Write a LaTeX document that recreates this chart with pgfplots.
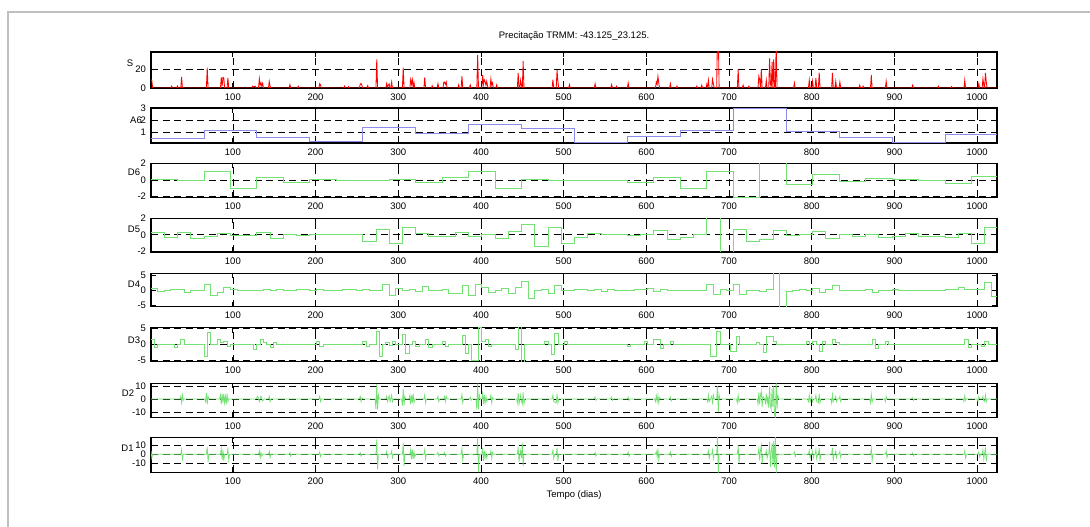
\documentclass[border=0pt]{standalone}
\usepackage{fontspec}
\setmainfont{Liberation Sans}
\usepackage{pgfplots}
\pgfplotsset{compat=1.18}
\definecolor{sred}{RGB}{255,0,0}
\definecolor{ablue}{RGB}{140,140,238}
\definecolor{dgreen}{RGB}{115,225,115}
\newcommand{\fs}{\fontsize{9.5}{11}\selectfont}
\pgfplotsset{
 sub/.style={
  scale only axis, width=846pt, anchor=south west,
  xmin=1, xmax=1024,
  xtick={100,200,300,400,500,600,700,800,900,1000},
  xticklabels={100,200,300,400,500,600,700,800,900,1000},
  tick align=inside, xtick pos=both, ytick pos=both,
  major tick length=5pt,
  xmajorgrids=true, ymajorgrids=true,
  major grid style={black, dash pattern=on 7pt off 4.5pt, line width=0.7pt},
  axis line style={black, line width=1.1pt},
  every tick/.style={black, line width=0.8pt},
  tick label style={font=\fs},
  xticklabel style={yshift=-2pt},
  yticklabel style={xshift=-1.5pt},
  every axis plot/.append style={no marks, line width=0.75pt},
 },
 lab/.style 2 args={extra description/.code={\node[font=\fs] at ([xshift=#1pt,yshift=#2pt]axis description cs:0,0.5) {\pgfkeysvalueof{/pgfplots/mylab}};}},
 mylab/.initial={},
}
\begin{document}
\begin{tikzpicture}[x=1pt,y=1pt]
\path[use as bounding box] (0,0) rectangle (1090,527);
\draw[black!25, line width=1.3pt] (8,0) -- (8,515) -- (1090,515);
\node[font=\fs, anchor=base] at (574,488) {Precitação TRMM: -43.125\_23.125.};
\node[font=\fs, anchor=base] at (574,29) {Tempo (dias)};

% S
\begin{axis}[sub, at={(151pt,439pt)}, height=36pt, ymin=0, ymax=39,
  ytick={0,20}, yticklabels={0,20}, mylab={S}, lab={-21}{6.5}]
\addplot[sred, line width=0.85pt] coordinates {(1,9)(2,8)(3,0)(25,0)(26,2)(27,0)(32,0)(33,2)(34,0)(37,0)(38,12)(39,0)(68,0)(69,22)(70,0)(85,0)(86,11.5)(87,2)(88,11.5)(89,11)(90,0)(93,0)(94,11)(95,0)(123,0)(124,2)(125,1)(127,2)(128,0)(131,0)(132,10)(133,3)(134,5.5)(135,2)(136,5)(137,0)(143,0)(144,7)(145,2)(146,0)(168,0)(169,3.6)(170,0)(178,0)(179,2)(180,0)(204,0)(205,4.7)(206,3.3)(207,0)(234,0)(235,2)(236,0)(239,0)(240,1.5)(241,0)(253,0)(254,4)(255,5)(256,3)(257,0)(262,0)(263,2.5)(264,0)(273,0)(274,31)(275,0)(285,0)(286,4.7)(287,1)(288,3)(289,4.5)(290,0)(291,0)(292,6.5)(293,0)(305,0)(306,22)(307,0)(314,0)(315,9)(316,4)(317,9)(318,0)(319,6)(320,0)(331,0)(332,11.6)(333,0)(340,0)(341,2.5)(342,0)(347,0)(348,4.7)(349,0)(354,0)(355,6)(356,6.5)(357,4)(358,6.5)(359,0)(372,0)(373,3.3)(374,0)(376,0)(377,12.7)(378,0)(386,0)(387,3.3)(388,0)(395,0)(396,35.6)(397,0)(401,0)(402,13.8)(403,4)(404,9)(405,7)(406,3)(407,7.3)(408,2)(409,0)(411,0)(412,9.8)(413,3)(414,5.5)(415,0)(418,0)(419,3.3)(420,0)(444,0)(445,16.4)(446,0)(447,0)(448,8.4)(449,3)(450,0)(451,29)(452,0)(486,0)(487,9)(488,0)(491,0)(492,19.3)(493,7.3)(494,0)(506,0)(507,3.6)(508,0)(537,0)(538,4.7)(539,0)(557,0)(558,3.6)(559,0)(563,0)(564,2)(565,0)(577,0)(578,5.5)(579,0)(611,0)(612,6.5)(613,4)(614,12.7)(615,5.5)(616,0)(628,0)(629,4.7)(630,0)(636,0)(637,2)(638,0)(660,0)(661,2)(662,0)(666,0)(667,3)(668,0)(672,0)(673,4)(674,0)(675,8.4)(676,0)(679,0)(680,9.5)(681,4.7)(682,0)(685,0)(686,60)(687,55)(688,0)(710,0)(711,20)(712,0)(716,0)(717,3)(718,0)(723,0)(724,2)(725,0)(735,0)(736,12.7)(737,9)(738,0)(739,20.4)(740,0)(744,0)(745,8.4)(746,0)(748,0)(749,32)(750,5)(751,0)(752,28.4)(753,0)(754,31.3)(755,0)(756,0)(757,50)(758,0)(778,0)(779,5.5)(780,0)(796,0)(797,8.4)(798,0)(800,0)(801,7.6)(802,0)(804,0)(805,10.9)(806,0)(808,0)(809,16.7)(810,0)(824,0)(825,16.4)(826,0)(828,0)(829,7.3)(830,0)(833,0)(834,6.5)(835,0)(857,0)(858,3)(859,0)(861,0)(862,2)(863,0)(871,0)(872,13.8)(873,0)(889,0)(890,7.3)(891,0)(921,0)(922,3)(923,0)(952,0)(953,2)(954,0)(968,0)(969,1.5)(970,0)(984,0)(985,8.4)(986,0)(1001,0)(1002,4.7)(1003,0)(1006,0)(1007,10)(1008,3)(1009,0)(1010,16.4)(1011,7)(1012,0)(1024,0)};
\end{axis}

% A6
\begin{axis}[sub, at={(151pt,384pt)}, height=35pt, ymin=0.11, ymax=3,
  ytick={1,2,3}, yticklabels={1,2,3}, mylab={A6}, lab={-15}{5.2}]
\addplot[ablue, const plot] coordinates {(1,0.53)(65,1.17)(129,0.55)(193,0.27)(257,1.38)(321,0.94)(385,1.67)(449,1.33)(513,0.17)(577,0.63)(641,1.13)(705,2.98)(769,1.05)(833,0.58)(897,0.13)(961,0.83)(1024,0.83)};
\end{axis}

% D6
\begin{axis}[sub, at={(151pt,329.7pt)}, height=34pt, ymin=-2.1, ymax=2.02,
  ytick={-2,0,2}, yticklabels={-2,0,2}, mylab={D6}, lab={-17}{7.6}]
\addplot[dgreen, const plot] coordinates {(1,0.05)(33,0)(65,1.0)(97,-1.0)(129,0.36)(161,-0.28)(193,0.05)(225,0)(289,0.05)(321,-0.28)(353,0.36)(385,1.0)(417,-1.0)(449,0.03)(481,0)(577,-0.28)(609,0.36)(641,-1.0)(673,1.04)(705,-2.15)(737,2.1)(769,-0.56)(801,0.72)(833,-0.16)(865,0.16)(897,0.03)(929,0)(961,-0.36)(993,0.44)(1024,0.44)};
\end{axis}

% D5
\begin{axis}[sub, at={(151pt,275pt)}, height=33.7pt, ymin=-2.1, ymax=2.0,
  ytick={-2,0,2}, yticklabels={-2,0,2}, mylab={D5}, lab={-17}{6}]
\addplot[dgreen, const plot] coordinates {(1,0.29)(17,-0.37)(33,0.33)(49,-0.45)(65,-0.25)(81,0.12)(97,-0.12)(113,-0.08)(129,0.33)(145,-0.45)(161,0.04)(177,-0.08)(193,0)(241,0.08)(257,-0.78)(273,0.7)(289,-1.03)(305,0.95)(321,0.12)(337,-0.25)(353,-0.2)(369,0.25)(385,-0.16)(401,0.04)(417,-0.49)(433,0.37)(449,1.28)(465,-1.44)(481,0.95)(497,-1.03)(513,-0.29)(529,0.16)(545,0)(561,0.04)(577,-0.04)(593,0.08)(609,0.58)(625,-0.62)(641,-0.29)(657,0)(673,2.2)(689,-2.3)(705,0.7)(721,-0.82)(737,-0.62)(753,0.58)(769,-0.08)(785,0.04)(801,0.37)(817,-0.49)(833,0.04)(849,-0.16)(865,0.08)(881,-0.33)(897,-0.16)(913,0.16)(929,-0.25)(945,-0.16)(961,-0.33)(977,0.12)(993,-1.03)(1009,0.95)(1024,0.95)};
\end{axis}

% D4
\begin{axis}[sub, at={(151pt,220.3pt)}, height=33.4pt, ymin=-5.6, ymax=5.6, ymajorgrids=false,
  ytick={-5,0,5}, yticklabels={-5,0,5}, mylab={D4}, lab={-17}{6}]
\addplot[dgreen, const plot] coordinates {(1,0.57)(9,-0.57)(17,-0.2)(25,0.2)(41,-0.8)(49,0)(65,1.9)(73,-1.9)(81,-0.8)(89,1.0)(97,0.3)(105,0)(129,-0.2)(137,0.3)(145,-0.2)(153,0.1)(161,-0.1)(177,0.1)(193,0)(201,0.2)(209,-0.1)(225,0)(233,0.15)(249,-0.15)(257,0.2)(265,-0.2)(273,0)(281,1.8)(289,-1.7)(297,0.7)(305,0)(313,0.2)(321,-0.45)(329,1.1)(337,0)(345,-0.2)(353,0.1)(361,-1.0)(377,1.7)(385,-1.7)(393,1.8)(401,0.9)(409,-0.8)(417,0)(425,0.5)(433,-1.0)(441,0.9)(449,3.0)(457,-2.7)(465,0)(473,0.2)(481,-1.0)(489,1.5)(497,0)(513,0.2)(529,-0.2)(537,0.2)(545,-0.4)(553,0.3)(561,0)(577,-0.2)(585,0.2)(601,0.4)(609,-0.4)(617,0.2)(625,0)(673,1.8)(681,-1.4)(689,0.2)(697,0)(705,1.8)(713,-1.4)(721,-0.2)(729,0)(737,-0.4)(745,0.2)(753,5.8)(761,-6)(769,-0.4)(777,0)(785,0.2)(793,-0.2)(801,0.6)(809,-0.9)(817,0.2)(825,1.4)(833,-0.2)(841,0)(865,0.2)(873,-0.9)(881,0)(897,0.2)(905,0)(961,0.2)(977,0.8)(985,0.2)(1001,0.2)(1009,2.4)(1017,-2.3)(1024,-2.3)};
\end{axis}

% D3
\begin{axis}[sub, at={(151pt,165.3pt)}, height=34pt, ymin=-5.3, ymax=5.1,
  ytick={-5,0,5}, yticklabels={-5,0,5}, mylab={D3}, lab={-17}{4.7}]
\addplot[dgreen, const plot] coordinates {(1,1.4)(5,-1)(9,0)(29,-0.8)(33,0)(37,1.4)(41,0)(65,-3.8)(69,3.8)(73,0)(81,1.4)(85,0.6)(89,0.8)(93,-0.5)(97,0)(125,-1.5)(129,0)(133,1.4)(137,0.5)(141,0)(145,-1)(149,0.6)(153,0)(201,0.8)(205,-0.5)(209,0)(257,0.9)(261,-0.5)(265,0)(273,4.1)(277,-3.8)(281,0)(285,0.6)(289,-0.4)(293,1.0)(297,0)(305,3)(309,-2.9)(313,0)(317,1)(321,-0.6)(325,0)(333,1.4)(337,-0.8)(341,0)(353,0.8)(357,-0.5)(361,0)(377,2.7)(381,-2.7)(385,0)(389,-4.8)(397,5.2)(401,0.8)(405,1.4)(409,-0.6)(413,0)(441,-1.6)(445,5.4)(449,-5.6)(453,0)(477,0.8)(481,0)(485,-3.1)(489,3.3)(493,0)(501,0.8)(505,0)(577,-0.5)(581,0)(597,0.8)(601,0)(609,1.4)(617,-1.3)(621,0)(629,0.8)(633,0)(677,-3.8)(685,4.1)(689,0)(701,-2)(709,2.5)(713,0)(733,0.5)(737,0)(741,-2.4)(745,2.5)(753,0.8)(757,0)(793,1)(797,0)(801,0.8)(805,0)(809,-2)(813,0.8)(817,0)(825,1.4)(829,0.5)(833,0)(873,1.6)(877,-1.3)(881,0)(889,0.8)(893,0)(985,1.4)(989,-1)(993,0)(1005,-0.5)(1009,0.8)(1013,0)(1024,0)};
\end{axis}

% D2
\begin{axis}[sub, at={(151pt,109.7pt)}, height=34pt, ymin=-14, ymax=12,
  ytick={-10,0,10}, yticklabels={-10,0,10}, mylab={D2}, lab={-23}{7}]
\addplot[dgreen] coordinates {(1,0)(36,0)(37,2)(38,-3)(39,3)(40,-1)(41,0)(66,0)(67,-2)(68,4.5)(69,-4)(70,2)(71,0)(84,0)(85,3)(86,-4)(87,4)(88,-3)(89,4)(90,-3)(91,2)(92,-4)(93,4)(94,-2)(95,0)(128,0)(130,2)(132,-2)(134,2)(136,-1.5)(138,0)(143,0)(144,2)(145,-2)(146,0)(204,0)(205,2)(206,-2)(207,0)(253,0)(254,2)(255,-2)(256,1)(257,0)(272,0)(273,-8)(274,11.5)(275,-8)(276,3)(277,0)(285,0)(286,2)(287,-2)(289,2.5)(290,-2)(291,0)(292,3)(293,-2)(294,0)(304,0)(305,-5)(306,8)(307,-5)(308,2)(309,0)(313,0)(314,3)(315,-4)(316,3)(317,-3)(318,4)(319,-3)(320,0)(331,0)(332,3)(333,-3)(334,0)(347,0)(348,2)(349,-2)(350,0)(355,0)(356,2)(357,-2)(358,2)(359,0)(376,0)(377,3.5)(378,-3)(379,0)(386,0)(387,1.5)(388,-1)(389,0)(394,0)(395,-8)(396,12)(397,-8)(398,3)(399,0)(401,0)(402,4)(403,-4)(404,3)(405,-3)(406,2)(407,-2)(408,0)(411,0)(412,3)(413,-3)(414,1)(415,0)(443,0)(444,-3)(445,4.5)(446,-4)(448,3)(449,-2)(450,-4)(451,5)(452,-4)(453,0)(486,0)(487,3)(488,-2)(491,-3)(492,4)(493,-3)(494,0)(536,0)(538,1.5)(539,-1)(540,0)(556,0)(558,1.5)(559,-1)(560,0)(577,0)(578,1.5)(579,-1)(580,0)(610,0)(611,-2)(612,2.5)(613,-2)(614,3)(615,-3)(616,1)(617,0)(628,0)(629,1.5)(630,-1.5)(631,0)(673,0)(674,-2)(675,3)(676,-2)(679,2)(680,-4)(681,3)(682,0)(685,0)(686,10)(687,-10)(688,3)(689,0)(709,0)(710,-3)(711,3)(712,-2)(713,0)(734,0)(735,-4)(736,5)(737,-4)(738,3)(739,6)(740,-6)(741,2)(743,0)(744,-3)(745,4)(746,-3)(747,2)(748,-7)(749,10)(750,-5)(751,-8)(752,8)(753,-6)(754,10)(755,-12)(756,-14)(757,14)(758,-8)(759,3)(760,0)(795,0)(796,-2)(797,3)(798,-2)(800,2)(801,-2)(802,0)(804,0)(805,3)(806,-2)(808,-3)(809,4)(810,-3)(811,0)(823,0)(824,-3)(825,3.5)(826,-2)(827,0)(828,0)(829,2)(830,-2)(831,0)(833,0)(834,2)(835,-2)(836,0)(870,0)(871,-3)(872,3.5)(873,-2)(874,0)(888,0)(889,-2)(890,2)(891,0)(920,0)(922,1)(923,-1)(924,0)(983,0)(984,-2)(985,2.5)(986,-1)(987,0)(1000,0)(1001,-2)(1002,2)(1003,0)(1006,0)(1007,2)(1008,-1.5)(1009,-2)(1010,3)(1011,-2)(1012,0)(1024,0)};
\end{axis}

% D1
\begin{axis}[sub, at={(151pt,54.7pt)}, height=34.6pt, ymin=-19.2, ymax=17.8,
  ytick={-10,0,10}, yticklabels={-10,0,10}, mylab={D1}, lab={-23.5}{6.7}]
\addplot[dgreen] coordinates {(1,4)(2,-4)(3,0)(37,0)(38,5)(39,-5)(40,0)(68,0)(69,8)(70,-8)(71,0)(85,0)(86,6)(87,-6)(88,5)(89,-7)(90,0)(93,0)(94,6)(95,-6)(96,0)(131,0)(132,4)(133,-4)(134,2)(135,-2)(136,0)(143,0)(144,3.5)(145,-3.5)(146,0)(168,0)(169,2)(170,-2)(171,0)(204,0)(205,2.5)(206,-2.5)(207,0)(253,0)(254,2)(255,-2)(256,0)(273,0)(274,16)(275,-16)(276,0)(285,0)(286,3)(287,-3)(288,0)(291,0)(292,3.5)(293,-3.5)(294,0)(305,0)(306,12.5)(307,-12.5)(308,0)(314,0)(315,5)(316,-5)(317,5)(318,-5)(319,3)(320,-3)(321,0)(331,0)(332,5)(333,-5)(334,0)(347,0)(348,2)(349,-2)(350,0)(355,0)(356,2)(357,-2)(358,0)(376,0)(377,6.5)(378,-6.5)(379,0)(395,0)(396,18)(397,-19)(398,0)(401,0)(402,7)(403,-7)(404,4)(405,-4)(406,2)(407,-4)(408,0)(411,0)(412,4)(413,-4)(414,2)(415,0)(444,0)(445,8)(446,-8)(447,0)(448,4)(449,-4)(450,12.5)(451,-12.5)(452,0)(486,0)(487,4.5)(488,-4.5)(489,0)(491,0)(492,7)(493,-7)(494,0)(537,0)(538,2)(539,-2)(540,0)(577,0)(578,2.5)(579,-2.5)(580,0)(611,0)(612,3)(613,-3)(614,6)(615,-6)(616,0)(628,0)(629,2.5)(630,-2.5)(631,0)(674,0)(675,4)(676,-4)(677,0)(679,0)(680,4.5)(681,-4.5)(682,0)(685,0)(686,20)(687,-20)(688,0)(710,0)(711,9.5)(712,-9.5)(713,0)(735,0)(736,6.5)(737,-6.5)(738,4.5)(739,10)(740,-10)(741,0)(744,0)(745,4)(746,-4)(747,0)(748,0)(749,13.5)(750,-13.5)(751,2)(752,12)(753,-12)(754,14)(755,-14)(756,20)(757,-20)(758,0)(778,0)(779,2.5)(780,-2.5)(781,0)(796,0)(797,4)(798,-4)(799,0)(800,0)(801,3.5)(802,-3.5)(803,0)(804,0)(805,5)(806,-5)(807,0)(808,0)(809,7)(810,-7)(811,0)(824,0)(825,7)(826,-7)(827,0)(828,0)(829,3.5)(830,-3.5)(831,0)(833,0)(834,3)(835,-3)(836,0)(871,0)(872,6.5)(873,-6.5)(874,0)(889,0)(890,3.5)(891,-3.5)(892,0)(921,0)(922,1.5)(923,-1.5)(924,0)(984,0)(985,4)(986,-4)(987,0)(1001,0)(1002,2.5)(1003,-2.5)(1004,0)(1006,0)(1007,5)(1008,-5)(1009,1)(1010,7.5)(1011,-7.5)(1012,0)(1024,0)};
\end{axis}
\end{tikzpicture}
\end{document}
